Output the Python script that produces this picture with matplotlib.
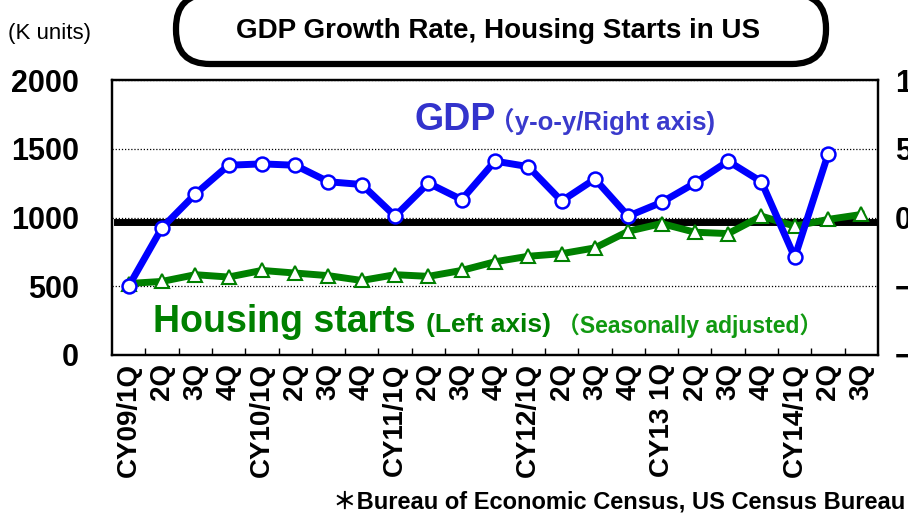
import numpy as np
import matplotlib
matplotlib.use("Agg")
import matplotlib.pyplot as plt
from matplotlib.patches import FancyBboxPatch

# x categories (quarters)
quarters = ["CY09/1Q", "2Q", "3Q", "4Q",
            "CY10/1Q", "2Q", "3Q", "4Q",
            "CY11/1Q", "2Q", "3Q", "4Q",
            "CY12/1Q", "2Q", "3Q", "4Q",
            "CY13 1Q", "2Q", "3Q", "4Q",
            "CY14/1Q", "2Q", "3Q"]

# GDP growth rate, y-o-y (%) - right axis (no value yet for 3Q 2014)
gdp = [-5.0, -0.75, 1.7, 3.8, 3.9, 3.8, 2.6, 2.4, 0.1, 2.5, 1.3, 4.1,
       3.7, 1.2, 2.8, 0.1, 1.1, 2.5, 4.1, 2.6, -2.9, 4.6, np.nan]

# housing starts (K units, seasonally adjusted) - left axis
housing = [520, 535, 584, 567, 615, 596, 577, 542, 584, 572, 615, 678,
           718, 737, 779, 900, 956, 893, 883, 1010, 937, 986, 1022]

left_ticks = [0, 500, 1000, 1500, 2000]
right_ticks = [-10, -5, 0, 5, 10]

blue = "#0000ff"
green = "#008000"
cjk = "Noto Sans CJK JP"

fig = plt.figure(figsize=(9.08, 5.15), dpi=100)
ax = fig.add_axes([112 / 908, 160 / 515, 766 / 908, 275 / 515])
ax2 = ax.twinx()

x = np.arange(len(quarters))

# left axis: housing starts
ax.set_ylim(0, 2000)
ax.set_yticks(left_ticks)
ax.set_xlim(-0.5, len(quarters) - 0.5)
ax.yaxis.grid(True, linestyle=(0, (1, 1.5)), color="black", linewidth=0.9)
ax.set_axisbelow(True)
ax.axhline(965, xmin=0.007, color="black", linewidth=5, zorder=1.5)
ax.plot(x, housing, color=green, linewidth=5, marker="^", markersize=10,
        markerfacecolor="white", markeredgecolor=green, markeredgewidth=1.5,
        zorder=3, clip_on=False)

# right axis: GDP
ax2.set_ylim(-10, 10)
ax2.set_yticks(right_ticks)
ax2.plot(x, gdp, color=blue, linewidth=5, marker="o", markersize=10,
         markerfacecolor="white", markeredgecolor=blue, markeredgewidth=1.8,
         zorder=3, clip_on=False)

for a in (ax, ax2):
    for s in a.spines.values():
        s.set_linewidth(1.6)
        s.set_color("black")

ax.tick_params(axis="y", length=0, pad=24)
ax2.tick_params(axis="y", length=0, pad=12)
for lab in ax.get_yticklabels() + ax2.get_yticklabels():
    lab.set_fontfamily(["Liberation Sans"])
    lab.set_fontweight("bold")
    lab.set_fontsize(22)

ax.set_xticks(x)
ax.set_xticklabels(quarters, rotation=90, fontsize=20, fontweight="bold",
                   family=["Liberation Sans"])
ax.set_xticks(np.arange(len(quarters) - 1) + 0.5, minor=True)
ax.tick_params(axis="x", which="major", length=0, pad=6)
ax.tick_params(axis="x", which="minor", direction="in", length=5, width=1)

# title box
box = FancyBboxPatch((1.76, 4.51), 6.50, 0.70,
                     boxstyle="round,pad=0,rounding_size=0.34",
                     transform=fig.dpi_scale_trans, facecolor="white",
                     edgecolor="black", linewidth=4.5, clip_on=False)
fig.add_artist(box)
fig.text(498 / 908, 1 - 38 / 515, "GDP Growth Rate, Housing Starts in US",
         ha="center", va="baseline", fontsize=20, fontweight="bold",
         family=["Liberation Sans"])

fig.text(8 / 908, 1 - 39 / 515, "(K units)", ha="left", va="baseline",
         fontsize=16, family=["Liberation Sans"])

# series labels
fig.text(415 / 908, 1 - 130 / 515, "GDP", ha="left", va="baseline",
         fontsize=27, fontweight="bold", color="#3333cc",
         family=["Liberation Sans"])
fig.text(489 / 908, 1 - 130 / 515, "（y-o-y/Right axis)", ha="left",
         va="baseline", fontsize=18.5, fontweight="bold", color="#3a3acc",
         family=["Liberation Sans", cjk])

fig.text(153 / 908, 1 - 332 / 515, "Housing starts", ha="left", va="baseline",
         fontsize=27, fontweight="bold", color=green,
         family=["Liberation Sans"])
fig.text(426 / 908, 1 - 332 / 515, "(Left axis)", ha="left", va="baseline",
         fontsize=19, fontweight="bold", color=green,
         family=["Liberation Sans"])
fig.text(557 / 908, 1 - 333 / 515, "（Seasonally adjusted）", ha="left",
         va="baseline", fontsize=16.5, fontweight="bold", color="#119911",
         family=["Liberation Sans", cjk])

# source note
fig.text(905 / 908, 1 - 509 / 515, "＊Bureau of Economic Census, US Census Bureau",
         ha="right", va="baseline", fontsize=17, fontweight="bold",
         family=["Liberation Sans", cjk])

fig.savefig("out.png", dpi=100)
